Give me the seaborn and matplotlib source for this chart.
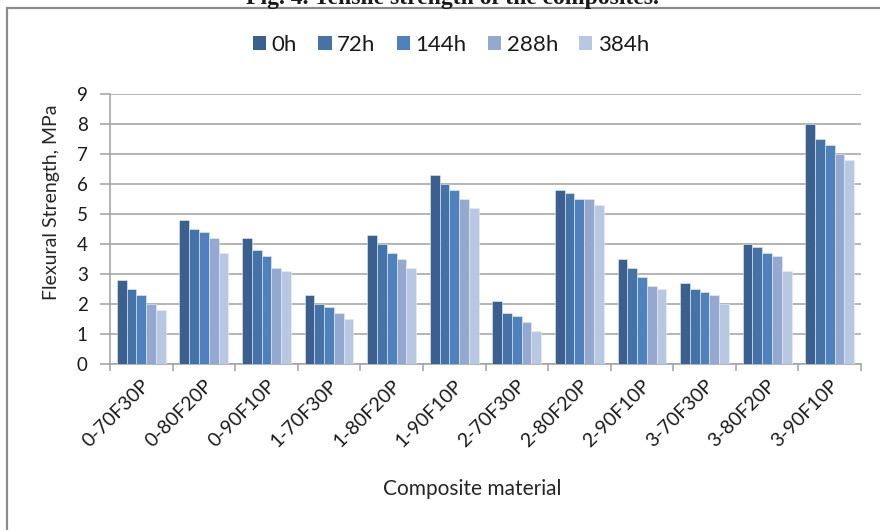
import matplotlib
matplotlib.use("Agg")
import matplotlib.pyplot as plt
import matplotlib.patches as mpatches
import seaborn as sns
import pandas as pd
import numpy as np

materials = ["0-70F30P", "0-80F20P", "0-90F10P", "1-70F30P", "1-80F20P", "1-90F10P",
             "2-70F30P", "2-80F20P", "2-90F10P", "3-70F30P", "3-80F20P", "3-90F10P"]
hours = ["0h", "72h", "144h", "288h", "384h"]

strength_0h = [2.8, 4.8, 4.2, 2.3, 4.3, 6.3, 2.1, 5.8, 3.5, 2.7, 4.0, 8.0]
strength_72h = [2.5, 4.5, 3.8, 2.0, 4.0, 6.0, 1.7, 5.7, 3.2, 2.5, 3.9, 7.5]
strength_144h = [2.3, 4.4, 3.6, 1.9, 3.7, 5.8, 1.6, 5.5, 2.9, 2.4, 3.7, 7.3]
strength_288h = [2.0, 4.2, 3.2, 1.7, 3.5, 5.5, 1.4, 5.5, 2.6, 2.3, 3.6, 7.0]
strength_384h = [1.8, 3.7, 3.1, 1.5, 3.2, 5.2, 1.1, 5.3, 2.5, 2.0, 3.1, 6.8]

y_ticks = [0, 1, 2, 3, 4, 5, 6, 7, 8, 9]

series = [strength_0h, strength_72h, strength_144h, strength_288h, strength_384h]
df = pd.DataFrame({
    "material": materials * len(hours),
    "time": [h for h in hours for _ in materials],
    "value": [v for s in series for v in s],
})

palette = ["#3B6090", "#4573A8", "#4F81BD", "#95A9D0", "#B9C8E2"]
grid_grey = "#A0A0A0"

sns.set_theme(style="white")
plt.rcParams["font.family"] = ["Lato", "DejaVu Sans"]
plt.rcParams["text.color"] = "#1A1A1A"

W, H = 880, 530
fig = plt.figure(figsize=(W / 100, H / 100), dpi=100)
ax = fig.add_axes([110 / W, 1 - 364 / H, (861 - 110) / W, (364 - 94) / H])

sns.barplot(data=df, x="material", y="value", hue="time", order=materials,
            hue_order=hours, palette=palette, width=0.78, saturation=1,
            edgecolor="#E8EDF5", linewidth=0.4, ax=ax, legend=False, zorder=3)

ax.set_ylim(0, 9)
ax.set_xlim(-0.5, len(materials) - 0.5)
ax.set_yticks(y_ticks)
ax.set_yticklabels([str(t) for t in y_ticks], fontsize=13.5, color="#1A1A1A")
ax.yaxis.grid(True, color=grid_grey, linewidth=1.1, zorder=0)
ax.set_axisbelow(True)

for s in ["top", "right"]:
    ax.spines[s].set_visible(False)
for s in ["left", "bottom"]:
    ax.spines[s].set_color(grid_grey)
    ax.spines[s].set_linewidth(1.1)

ax.tick_params(axis="y", which="major", direction="out", length=7, width=1.1,
               color=grid_grey, left=True, pad=9)
ax.set_xticks(range(len(materials)))
ax.set_xticklabels(materials, rotation=45, ha="right", rotation_mode="anchor",
                   fontsize=14, color="#1A1A1A")
ax.tick_params(axis="x", which="major", length=0, pad=9)
ax.set_xticks(np.arange(-0.5, len(materials)), minor=True)
ax.tick_params(axis="x", which="minor", direction="out", length=5, width=1.1,
               color=grid_grey, bottom=True)

ax.set_xlabel("Composite material", fontsize=15, va="center")
ax.set_ylabel("Flexural Strength, MPa", fontsize=14, va="center")
to_ax = ax.transAxes.inverted()
ax.xaxis.set_label_coords(*to_ax.transform(fig.transFigure.transform((472 / W, 1 - 489 / H))))
ax.yaxis.set_label_coords(*to_ax.transform(fig.transFigure.transform((52 / W, 1 - 202 / H))))

handles = [mpatches.Patch(facecolor=c, edgecolor="none", label=h)
           for c, h in zip(palette, hours)]
fig.legend(handles=handles, loc="center", bbox_to_anchor=(451 / W, 1 - 45 / H), ncol=5,
           frameon=False, fontsize=16, handlelength=0.6, handleheight=0.6,
           handletextpad=0.25, columnspacing=0.95)

# outer chart border
fig.patches.append(mpatches.Rectangle((7 / W, -0.05), 1.1, 1 - 8 / H + 0.05,
                                      transform=fig.transFigure, fill=False,
                                      edgecolor="#8C8C8C", linewidth=1.6))

# figure caption above the chart frame
fig.text(452 / W, 1 - 4 / H, "Fig. 4. Tensile strength of the composites.",
         ha="center", va="baseline", fontsize=17, fontweight="bold",
         family=["Liberation Serif", "DejaVu Serif"])

fig.savefig("out.png", dpi=100)
